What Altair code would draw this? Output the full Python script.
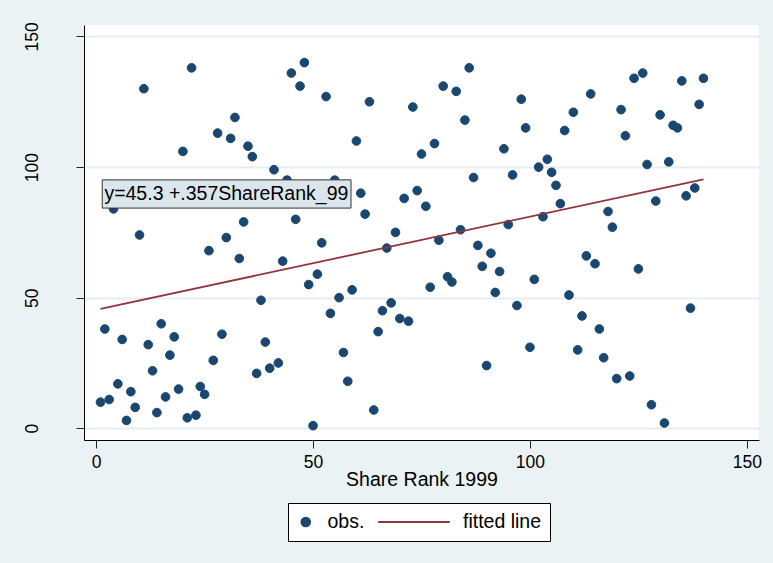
import altair as alt
import pandas as pd

# ---- data ----
share_rank_99 = [
    1, 2, 3, 4, 5, 6, 7, 8, 9, 10,
    11, 12, 13, 14, 15, 16, 17, 18, 19, 20,
    21, 22, 23, 24, 25, 26, 27, 28, 29, 30,
    31, 32, 33, 34, 35, 36, 37, 38, 39, 40,
    41, 42, 43, 44, 45, 46, 47, 48, 49, 50,
    51, 52, 53, 54, 55, 56, 57, 58, 59, 60,
    61, 62, 63, 64, 65, 66, 67, 68, 69, 70,
    71, 72, 73, 74, 75, 76, 77, 78, 79, 80,
    81, 82, 83, 84, 85, 86, 87, 88, 89, 90,
    91, 92, 93, 94, 95, 96, 97, 98, 99, 100,
    101, 102, 103, 104, 105, 106, 107, 108, 109, 110,
    111, 112, 113, 114, 115, 116, 117, 118, 119, 120,
    121, 122, 123, 124, 125, 126, 127, 128, 129, 130,
    131, 132, 133, 134, 135, 136, 137, 138, 139, 140,
]
y_values = [
    10, 38, 11, 84, 17, 34, 3, 14, 8, 74,
    130, 32, 22, 6, 40, 12, 28, 35, 15, 106,
    4, 138, 5, 16, 13, 68, 26, 113, 36, 73,
    111, 119, 65, 79, 108, 104, 21, 49, 33, 23,
    99, 25, 64, 95, 136, 80, 131, 140, 55, 1,
    59, 71, 127, 44, 95, 50, 29, 18, 53, 110,
    90, 82, 125, 7, 37, 45, 69, 48, 75, 42,
    88, 41, 123, 91, 105, 85, 54, 109, 72, 131,
    58, 56, 129, 76, 118, 138, 96, 70, 62, 24,
    67, 52, 60, 107, 78, 97, 47, 126, 115, 31,
    57, 100, 81, 103, 98, 93, 86, 114, 51, 121,
    30, 43, 66, 128, 63, 38, 27, 83, 77, 19,
    122, 112, 20, 134, 61, 136, 101, 9, 87, 120,
    2, 102, 116, 115, 133, 89, 46, 92, 124, 134,
]
fit_x = [1, 140]
fit_y = [45.7, 95.3]
series_names = ["obs.", "fitted line"]
x_ticks = [0, 50, 100, 150]
y_ticks = [0, 50, 100, 150]
fit_label = ["y=45.3 +.357ShareRank_99"]

# ---- styling ----
NAVY = "#1A476F"
MAROON = "#90353B"
FONT = "Liberation Sans"
BG = "#EAF2F3"

obs = pd.DataFrame({"x": share_rank_99, "y": y_values, "series": [series_names[0]] * len(y_values)})
fit = pd.DataFrame({"x": fit_x, "y": fit_y})
lbl = pd.DataFrame({
    "x0": [1.4], "x1": [58.75], "y0": [84.3], "y1": [95.1],
    "tx": [1.9], "ty": [89.6], "text": fit_label,
})

xs = alt.Scale(domain=[-2.8, 152.8], nice=False, zero=False)
ys = alt.Scale(domain=[-4.5, 154.4], nice=False, zero=False)

x_axis = alt.Axis(values=x_ticks, title="Share Rank 1999", grid=False,
                  labelFontSize=17.5, labelPadding=5, titleFontSize=19.5,
                  titlePadding=0, titleFontWeight="normal")
y_axis = alt.Axis(values=y_ticks, title=None, grid=True, gridColor="#E6EEF1",
                  gridWidth=2, labelAngle=270, labelAlign="center",
                  labelBaseline="alphabetic", labelFontSize=17.5, labelPadding=39)

leg = alt.Legend(title=None, orient="none", legendX=204, legendY=478,
                 direction="horizontal", padding=8, strokeColor="black",
                 fillColor="white", labelFontSize=19.5, labelFont=FONT,
                 labelColor="black", labelOffset=12, columnPadding=12,
                 clipHeight=22, symbolStrokeWidth=2, cornerRadius=0)

color_scale = alt.Scale(domain=series_names, range=[NAVY, MAROON])

points = alt.Chart(obs).mark_point(filled=True, opacity=1, strokeWidth=1).encode(
    x=alt.X("x:Q", scale=xs, axis=x_axis),
    y=alt.Y("y:Q", scale=ys, axis=y_axis),
    color=alt.Color("series:N", scale=color_scale, legend=leg),
    stroke=alt.Stroke("series:N", scale=color_scale, legend=leg),
    shape=alt.Shape("series:N", scale=alt.Scale(domain=series_names, range=["circle", "stroke"]), legend=leg),
    size=alt.Size("series:N", scale=alt.Scale(type="point", domain=series_names, range=[75, 5130], padding=0), legend=leg),
)

line = alt.Chart(fit).mark_line(color=MAROON, strokeWidth=1.8).encode(
    x=alt.X("x:Q", scale=xs, axis=x_axis),
    y=alt.Y("y:Q", scale=ys, axis=y_axis),
)

box = alt.Chart(lbl).mark_rect(fill="#DAE6EC", stroke="#333333", strokeWidth=1).encode(
    x=alt.X("x0:Q", scale=xs, axis=x_axis),
    x2="x1:Q",
    y=alt.Y("y0:Q", scale=ys, axis=y_axis),
    y2="y1:Q",
)

txt = alt.Chart(lbl).mark_text(align="left", baseline="middle", fontSize=19.5,
                               font=FONT, color="black").encode(
    x=alt.X("tx:Q", scale=xs, axis=x_axis),
    y=alt.Y("ty:Q", scale=ys, axis=y_axis),
    text="text:N",
)

chart = alt.layer(points, line, box, txt).properties(
    width=675, height=415,
    autosize=alt.AutoSizeParams(type="none"),
    padding={"left": 84, "top": 25, "right": 14, "bottom": 123},
    background=BG,
).configure_view(stroke=None, fill="white").configure_axis(
    domainColor="black", domainWidth=1, tickColor="#222222", tickSize=8,
    tickWidth=1, labelFont=FONT, titleFont=FONT, labelColor="black",
    titleColor="black",
)

chart.save("out.html", embed_options={"renderer": "svg", "actions": False})
